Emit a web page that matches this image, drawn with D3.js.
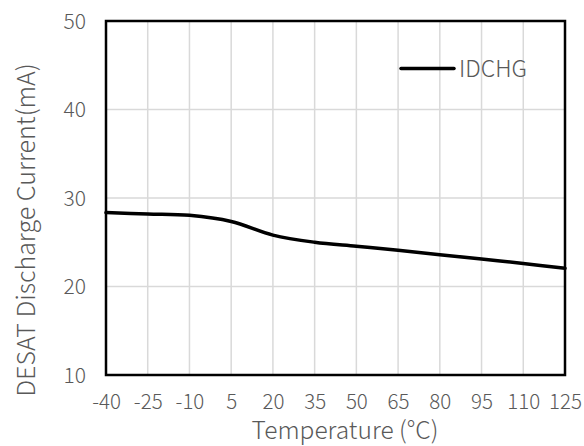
<!DOCTYPE html>
<html><head><meta charset="utf-8">
<script src="https://cdn.jsdelivr.net/npm/d3@7"></script>
<style>body{margin:0;background:#fff}svg{display:block}</style>
</head><body>
<script>
const temps = [-40, -25, -10, 5, 20, 35, 50, 65, 80, 95, 110, 125];
const idchg = [28.35, 28.2, 28.05, 27.35, 25.8, 25.0, 24.55, 24.1, 23.6, 23.1, 22.6, 22.05];
const xTicks = [-40, -25, -10, 5, 20, 35, 50, 65, 80, 95, 110, 125];
const yTicks = [10, 20, 30, 40, 50];
const seriesName = "IDCHG";
const xTitle = "Temperature (°C)";
const yTitle = "DESAT Discharge Current(mA)";

const W = 584, H = 446;
const m = {left:106, top:21, right:565, bottom:375};
const font = "'Noto Sans CJK SC', 'Noto Sans', sans-serif";
const grey = "#595959";

const svg = d3.select("body").append("svg").attr("width", W).attr("height", H);
const x = d3.scaleLinear().domain([-40,125]).range([m.left, m.right]);
const y = d3.scaleLinear().domain([10,50]).range([m.bottom, m.top]);

// grid
svg.append("g").selectAll("line.v").data(xTicks).join("line")
  .attr("x1", d=>x(d)).attr("x2", d=>x(d)).attr("y1", m.top).attr("y2", m.bottom)
  .attr("stroke", "#d9d9d9").attr("stroke-width", 1.5);
svg.append("g").selectAll("line.h").data(yTicks).join("line")
  .attr("x1", m.left).attr("x2", m.right).attr("y1", d=>y(d)).attr("y2", d=>y(d))
  .attr("stroke", "#d9d9d9").attr("stroke-width", 1.5);

// axes (labels only)
const fmt = d => String(d);
const xAxis = svg.append("g").attr("transform", `translate(0,${m.bottom})`)
  .call(d3.axisBottom(x).tickValues(xTicks).tickSize(0).tickPadding(0).tickFormat(fmt));
xAxis.select(".domain").remove();
xAxis.selectAll("text").attr("y", 34).attr("dy", 0).attr("font-size", 20.5).attr("font-weight", 300)
  .attr("font-family", font).attr("fill", grey);

const yAxis = svg.append("g").attr("transform", `translate(${m.left},0)`)
  .call(d3.axisLeft(y).tickValues(yTicks).tickSize(0).tickPadding(0).tickFormat(fmt));
yAxis.select(".domain").remove();
yAxis.selectAll("text").attr("x", -20).attr("dy", "0.35em").attr("font-size", 21).attr("font-weight", 300)
  .attr("font-family", font).attr("fill", grey);

// border
svg.append("rect").attr("x", m.left).attr("y", m.top)
  .attr("width", m.right-m.left).attr("height", m.bottom-m.top)
  .attr("fill", "none").attr("stroke", "#000").attr("stroke-width", 2.5);

// series
const data = temps.map((t,i)=>({t, v: idchg[i]}));
svg.append("path").datum(data)
  .attr("d", d3.line().x(d=>x(d.t)).y(d=>y(d.v)).curve(d3.curveCatmullRom.alpha(0.5)))
  .attr("fill", "none").attr("stroke", "#000").attr("stroke-width", 3.5).attr("stroke-linecap", "round");

// legend
svg.append("line").attr("x1", 401).attr("x2", 454).attr("y1", 68.5).attr("y2", 68.5)
  .attr("stroke", "#000").attr("stroke-width", 3.5).attr("stroke-linecap", "round");
svg.append("text").attr("x", 459).attr("y", 68.5).attr("dy", "0.35em")
  .attr("font-size", 23).attr("font-weight", 300).attr("font-family", font).attr("fill", grey).text(seriesName);

// titles
svg.append("text").attr("x", 345).attr("y", 439).attr("text-anchor", "middle")
  .attr("font-size", 24.5).attr("font-weight", 300).attr("font-family", font).attr("fill", grey).text(xTitle);
svg.append("text").attr("transform", "translate(35,230) rotate(-90)").attr("text-anchor", "middle")
  .attr("font-size", 25).attr("font-weight", 300).attr("font-family", font).attr("fill", grey).text(yTitle);
</script>
</body></html>
